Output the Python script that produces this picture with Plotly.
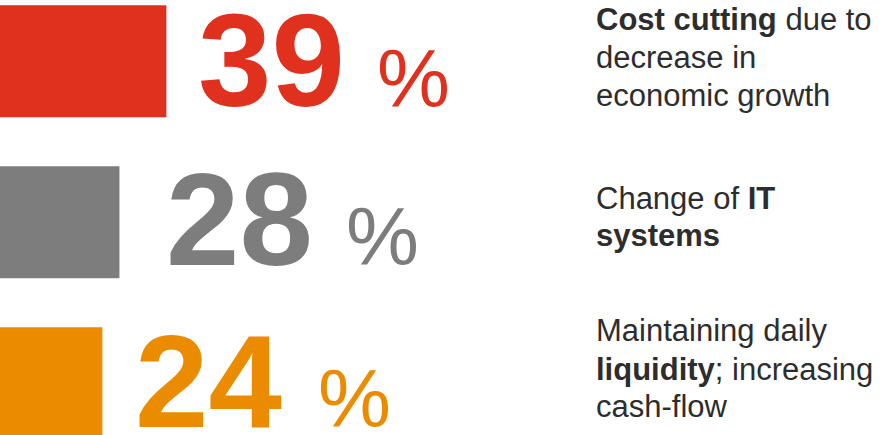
import plotly.graph_objects as go

# Survey results: share of respondents naming each priority
categories = ["Cost cutting", "Change of IT systems", "Maintaining daily liquidity"]
shares = [39, 28, 24]
descriptions = [
    "<b>Cost cutting</b> due to<br>decrease in<br>economic growth",
    "Change of <b>IT</b><br><b>systems</b>",
    "Maintaining daily<br><b>liquidity</b>; increasing<br>cash-flow",
]
colors = ["#E0301E", "#7D7D7D", "#EB8C00"]

W, H = 883, 435
FONT = "Liberation Sans, Arial, Helvetica, sans-serif"
TEXT_DARK = "#2D2D2D"

NUM_SIZE, PCT_SIZE, DESC_SIZE = 132, 82, 31
MID_RATIO = 0.3465  # baseline-to-box-centre offset (em) for this font

# layout placement (pixels from top-left) for the text blocks
number_left = [197, 165, 134]
pct_left = [376, 345, 317]
number_baseline = [106.5, 265.0, 427.3]
desc_left = 594.5
desc_baselines = [[30.5, 68.0, 106.0], [209.0, 246.0], [341.5, 380.0, 417.3]]


def px_x(p):
    return p / W


def px_y(p):
    return 1 - p / H


fig = go.Figure(
    go.Bar(
        x=shares,
        y=categories,
        orientation="h",
        marker=dict(color=colors, line=dict(width=0)),
        width=0.696,
        hoverinfo="skip",
    )
)

annotations = []
for i, v in enumerate(shares):
    base = number_baseline[i]
    annotations.append(dict(
        text=f"<b>{v}</b>", xref="paper", yref="paper",
        x=px_x(number_left[i]), y=px_y(base - MID_RATIO * NUM_SIZE),
        xanchor="left", yanchor="middle", showarrow=False, borderpad=0,
        font=dict(family=FONT, size=NUM_SIZE, color=colors[i]),
    ))
    annotations.append(dict(
        text="%", xref="paper", yref="paper",
        x=px_x(pct_left[i]), y=px_y(base - MID_RATIO * PCT_SIZE),
        xanchor="left", yanchor="middle", showarrow=False, borderpad=0,
        font=dict(family=FONT, size=PCT_SIZE, color=colors[i]),
    ))
    # one annotation per text line so the leading can be set exactly
    for line, line_base in zip(descriptions[i].split("<br>"), desc_baselines[i]):
        annotations.append(dict(
            text=line, xref="paper", yref="paper",
            x=px_x(desc_left), y=px_y(line_base - MID_RATIO * DESC_SIZE),
            xanchor="left", yanchor="middle", align="left",
            showarrow=False, borderpad=0,
            font=dict(family=FONT, size=DESC_SIZE, color=TEXT_DARK),
        ))

fig.update_layout(
    width=W, height=H,
    margin=dict(l=0, r=0, t=0, b=0),
    paper_bgcolor="white", plot_bgcolor="white",
    showlegend=False,
    annotations=annotations,
    xaxis=dict(range=[0, 207], visible=False, fixedrange=True),
    yaxis=dict(
        type="category", categoryorder="array", categoryarray=categories,
        range=[2.321, -0.381], visible=False, fixedrange=True,
    ),
)

fig.write_html("out.html", config={"displayModeBar": False})
